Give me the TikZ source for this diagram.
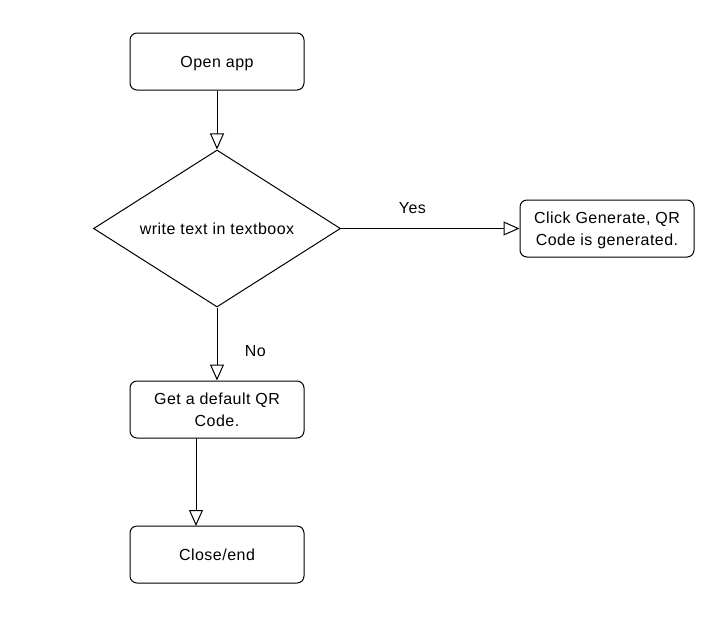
\documentclass[tikz,border=0pt]{standalone}
\usepackage{fontspec}
\setmainfont{Liberation Sans}[LetterSpace=3]
\usetikzlibrary{shapes.geometric,arrows.meta}
\begin{document}
\begin{tikzpicture}[x=1pt,y=-1pt,
  txt/.style={font=\fontsize{16}{22}\selectfont},
  procbox/.style={txt,draw,rounded corners=7pt,minimum width=174pt,minimum height=57pt,align=center,inner sep=2pt,line width=1pt,text depth=0pt},
  decision/.style={txt,draw,diamond,minimum width=247pt,minimum height=157pt,inner sep=0pt,line width=1pt},
  flow/.style={draw,line width=1pt,-{Triangle[open,length=16pt,width=14pt]}},
  lbl/.style={txt}]
\useasboundingbox (0,0) rectangle (728,619);
\node[procbox] (open) at (217,61.5) {Open app};
\node[decision] (dec) at (217,228.5) {\makebox[0pt]{write text in textboox}};
\node[procbox] (gen) at (607,228.5) {Click Generate, QR\\Code is generated.};
\node[procbox] (def) at (217,409.5) {Get a default QR\\Code.};
\node[procbox] (close) at (217,554.5) {Close/end};
\coordinate (defout) at (196,438);
\coordinate (closein) at (196,526);
\draw[flow] (open) -- (dec);
\draw[flow] (dec.east) -- (gen.west) node[lbl,pos=0.4,above=11pt] {Yes};
\draw[flow] (dec.south) -- (def.north) node[lbl,pos=0.6,right=24pt] {No};
\draw[flow] (defout) -- (closein);
\end{tikzpicture}
\end{document}
